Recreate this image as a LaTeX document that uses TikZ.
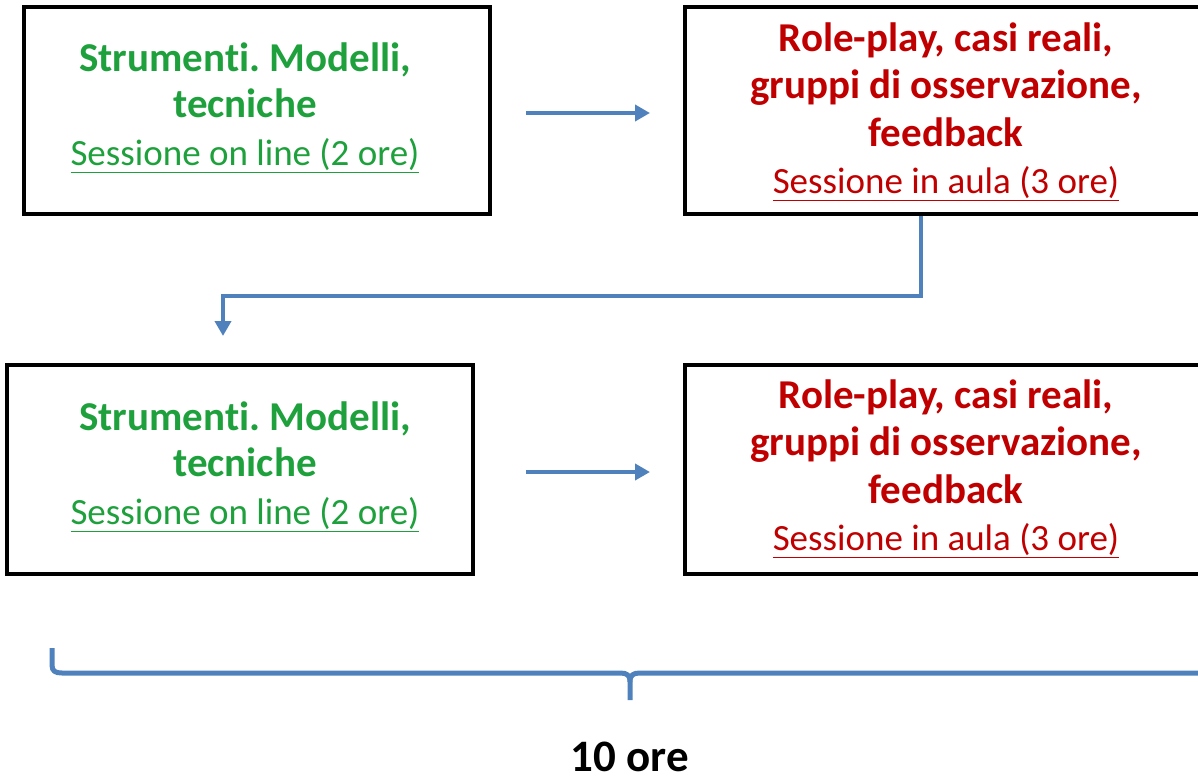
\documentclass[tikz,border=0pt]{standalone}
\usepackage{fontspec}
\setmainfont{Carlito}[Ligatures=NoCommon]
\usetikzlibrary{arrows.meta,calc}
\definecolor{tgreen}{RGB}{30,160,60}
\definecolor{tred}{RGB}{192,0,0}
\definecolor{tblue}{RGB}{79,129,189}
\frenchspacing
\begin{document}
\begin{tikzpicture}[x=1pt,y=-1pt,
  box/.style={draw=black,line width=4pt,minimum height=207pt,inner sep=0pt},
  narrowbox/.style={box,minimum width=466pt},
  widebox/.style={box,minimum width=522pt},
  greentext/.style={text=tgreen,align=center,inner sep=0pt,font=\fontsize{41}{46}\selectfont\bfseries},
  redtext/.style={text=tred,align=center,inner sep=0pt,font=\fontsize{41}{47.5}\selectfont\bfseries},
  arr/.style={draw=tblue,line width=4.5pt,-{Triangle[length=15pt,width=16pt]}},
  bracepath/.style={draw=tblue,line width=5pt,line join=round},
  total/.style={font=\fontsize{45}{50}\selectfont\bfseries,text=black,inner sep=0pt,text depth=0pt,text height=31pt}]
\useasboundingbox (0,0) rectangle (1198,781);
\clip (0,0) rectangle (1198,781);
% boxes
\node[narrowbox,label={[greentext,name=t1,xshift=-12pt,yshift=3pt]center:Strumenti. Modelli,\\tecniche\\[2pt]{\fontsize{37}{46}\selectfont\mdseries\underline{Sessione on line (2 ore)}}}] (b1) at (257,110.5) {};
\node[widebox,label={[redtext,name=t2,yshift=-1pt]center:Role-play, casi reali,\\gruppi di osservazione,\\feedback\\{\fontsize{37}{46}\selectfont\mdseries\underline{Sessione in aula (3 ore)}}}] (b2) at (946,110.5) {};
\node[narrowbox,minimum height=209pt,label={[greentext,name=t3,xshift=5pt,yshift=3pt]center:Strumenti. Modelli,\\tecniche\\[2pt]{\fontsize{37}{46}\selectfont\mdseries\underline{Sessione on line (2 ore)}}}] (b3) at (240,469.5) {};
\node[widebox,minimum height=209pt,label={[redtext,name=t4,yshift=1pt]center:Role-play, casi reali,\\gruppi di osservazione,\\feedback\\{\fontsize{37}{46}\selectfont\mdseries\underline{Sessione in aula (3 ore)}}}] (b4) at (946,469.5) {};
% connectors
\coordinate (a1s) at ($(b1.east)+(34,2.5)$);
\coordinate (a1e) at ($(b2.west)+(-33,2.5)$);
\draw[arr] (a1s) -- (a1e);
\coordinate (a2s) at ($(b2.south west)+(238,0)$);
\coordinate (a2e) at ($(b3.north west)+(218,-27)$);
\draw[arr] (a2s) -- ++(0,80) -| (a2e);
\coordinate (a3s) at ($(b3.east)+(51,2.5)$);
\coordinate (a3e) at ($(b4.west)+(-33,2.5)$);
\draw[arr] (a3s) -- (a3e);
% brace
\draw[bracepath] (52,648) -- (52,665) .. controls (52,671) and (55,673) .. (62,673) -- (620,673) .. controls (627,673) and (630,675) .. (630,682) -- (630,700);
\draw[bracepath] (630,682) .. controls (630,675) and (633,673) .. (640,673) -- (1200,673) .. controls (1207,673) and (1210,671) .. (1210,665) -- (1210,648);
\node[total,anchor=base] (tot) at (630,771) {10 ore};
\end{tikzpicture}
\end{document}
